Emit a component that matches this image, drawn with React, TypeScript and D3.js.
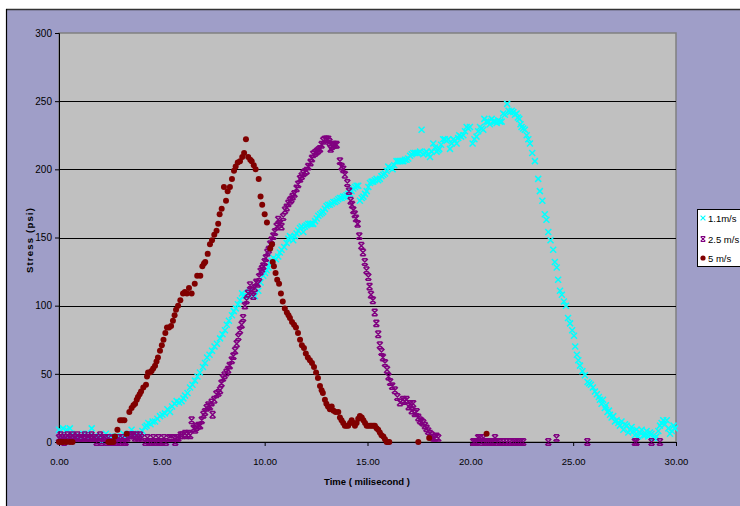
import React, { useEffect, useRef } from 'react'
import * as d3 from 'd3'

// time (ms), stress (psi)
const speed11: [number, number][] = [
  [0,9],[0.1,4],[0.2,10],[0.3,3],[0.37,9],[0.45,4],[0.53,10],[0.61,6],[0.7,3],[0.85,3],[1.0,4],[1.18,6],[1.34,6],[1.45,3],[1.59,10],[1.7,4],[1.83,3],[1.95,4],[2.07,0],[2.17,4],[2.28,6],[2.38,4],[2.48,3],[2.6,4],[2.75,4],[2.86,3],[2.97,3],[3.05,4],[3.13,6],[3.25,4],[3.35,5],[3.45,6],[3.53,9],[3.62,6],[3.72,6],[3.82,5],[3.94,6],[4.05,8],[4.18,11],[4.26,12],[4.34,14],[4.45,13],[4.55,15],[4.67,15],[4.78,17],[4.91,19],[5.03,20],[5.15,21],[5.27,24],[5.4,22],[5.5,26],[5.62,28],[5.72,30],[5.84,29],[5.96,30],[6.05,32],[6.13,34],[6.25,36],[6.37,40],[6.49,42],[6.61,45],[6.73,48],[6.85,51],[7.0,55],[7.1,58],[7.2,62],[7.32,64],[7.44,67],[7.56,70],[7.68,72],[7.83,76],[7.95,79],[8.07,82],[8.16,86],[8.26,89],[8.41,93],[8.5,96],[8.6,98],[8.7,101],[8.8,104],[8.9,109],[8.96,107],[9.1,107],[9.25,110],[9.4,108],[9.53,107],[9.69,111],[9.8,117],[9.93,122],[10.02,124],[10.1,126],[10.18,128],[10.26,131],[10.34,133],[10.42,135],[10.55,134],[10.66,136],[10.74,139],[10.82,141],[10.95,143],[11.07,146],[11.15,149],[11.23,151],[11.31,150],[11.39,148],[11.47,151],[11.55,153],[11.63,155],[11.72,157],[11.8,158],[11.88,154],[11.96,158],[12.04,159],[12.12,160],[12.2,160],[12.28,160],[12.36,160],[12.45,162],[12.53,164],[12.61,166],[12.7,167],[12.78,168],[12.85,169],[12.93,171],[13.01,173],[13.09,174],[13.17,174],[13.26,175],[13.34,176],[13.42,176],[13.5,177],[13.58,178],[13.66,179],[13.74,179],[13.82,180],[13.9,180],[13.98,181],[14.07,182],[14.15,182],[14.23,184],[14.31,186],[14.39,187],[14.47,188],[14.55,188],[14.63,177],[14.72,179],[14.8,180],[14.88,182],[14.96,184],[15.04,187],[15.12,190],[15.2,191],[15.28,191],[15.36,192],[15.44,193],[15.52,192],[15.6,193],[15.68,195],[15.77,196],[15.85,197],[15.93,199],[16.01,202],[16.1,201],[16.22,200],[16.3,203],[16.41,206],[16.5,206],[16.58,206],[16.66,206],[16.74,206],[16.82,207],[16.9,207],[16.98,208],[17.07,210],[17.15,211],[17.23,212],[17.31,212],[17.39,212],[17.47,212],[17.55,213],[17.63,229],[17.71,211],[17.79,212],[17.87,213],[17.96,211],[18.04,209],[18.12,213],[18.2,219],[18.28,216],[18.36,213],[18.44,214],[18.49,215],[18.58,218],[18.68,222],[18.76,222],[18.85,221],[18.93,222],[19.01,215],[19.09,219],[19.17,222],[19.25,221],[19.33,219],[19.41,223],[19.46,225],[19.55,224],[19.66,225],[19.74,228],[19.82,231],[19.9,230],[19.98,231],[20.11,219],[20.2,222],[20.3,224],[20.38,228],[20.47,231],[20.55,230],[20.63,229],[20.68,237],[20.78,235],[20.87,235],[20.95,233],[21.04,237],[21.12,235],[21.2,235],[21.28,234],[21.36,236],[21.44,235],[21.52,235],[21.6,241],[21.68,240],[21.79,248],[21.86,243],[21.93,242],[22.01,243],[22.09,242],[22.17,240],[22.25,241],[22.31,238],[22.38,237],[22.44,233],[22.49,231],[22.57,230],[22.65,229],[22.74,225],[22.82,222],[22.9,219],[23.01,212],[23.14,206],[23.3,193],[23.38,184],[23.5,177],[23.62,167],[23.7,163],[23.79,154],[23.9,148],[24.03,141],[24.11,132],[24.2,128],[24.27,119],[24.36,111],[24.45,108],[24.55,103],[24.65,100],[24.75,91],[24.85,87],[24.95,82],[25.04,78],[25.1,70],[25.18,64],[25.25,60],[25.33,56],[25.45,52],[25.57,49],[25.7,44],[25.78,43],[25.86,42],[25.96,40],[26.06,37],[26.15,35],[26.25,33],[26.3,31],[26.38,28],[26.45,31],[26.54,25],[26.59,27],[26.67,22],[26.74,23],[26.79,20],[26.87,18],[26.95,19],[27.03,15],[27.11,16],[27.19,14],[27.27,12],[27.35,15],[27.44,9],[27.52,13],[27.6,12],[27.68,7],[27.76,9],[27.84,11],[27.92,8],[28.0,5],[28.08,9],[28.16,4],[28.25,7],[28.33,9],[28.41,5],[28.49,5],[28.57,8],[28.65,4],[28.73,7],[28.81,6],[28.89,3],[28.97,3],[29.05,4],[29.14,8],[29.22,12],[29.3,14],[29.38,16],[29.46,13],[29.55,16],[29.63,10],[29.71,6],[29.8,8],[29.88,12],[29.95,10],
]

const speed25: [number, number][] = [
  [0,3],[0.08,5],[0.16,3],[0.25,0],[0.33,3],[0.41,5],[0.5,3],[0.58,3],[0.66,5],[0.74,3],[0.82,3],[0.9,5],[1.0,3],[1.08,3],[1.16,3],[1.25,5],[1.33,3],[1.41,3],[1.5,3],[1.58,5],[1.66,3],[1.74,3],[1.83,0],[1.91,3],[2.0,5],[2.07,0],[2.15,3],[2.24,3],[2.32,0],[2.4,3],[2.5,0],[2.58,0],[2.66,3],[2.74,0],[2.82,0],[2.9,3],[3.0,0],[3.08,3],[3.16,0],[3.24,0],[3.32,3],[3.45,5],[3.53,5],[3.62,5],[3.7,3],[3.78,5],[3.86,3],[3.94,5],[4.02,3],[4.2,0],[4.3,3],[4.4,0],[4.5,0],[4.58,3],[4.66,0],[4.75,0],[4.84,3],[4.92,0],[5.0,0],[5.1,3],[5.2,0],[5.35,3],[5.45,3],[5.55,3],[5.65,0],[5.72,3],[5.8,3],[5.92,5],[6.0,5],[6.13,6],[6.2,5],[6.3,6],[6.38,5],[6.45,16],[6.55,10],[6.62,9],[6.69,11],[6.78,12],[6.86,12],[6.94,16],[7.02,20],[7.1,22],[7.18,25],[7.26,27],[7.34,26],[7.42,29],[7.47,20],[7.55,31],[7.65,35],[7.75,36],[7.83,38],[7.9,43],[7.97,47],[8.05,49],[8.14,51],[8.22,53],[8.3,56],[8.4,60],[8.48,63],[8.56,67],[8.64,72],[8.72,77],[8.8,82],[8.88,86],[8.95,91],[9.04,100],[9.12,104],[9.19,109],[9.29,115],[9.37,111],[9.45,107],[9.52,113],[9.59,117],[9.66,116],[9.73,121],[9.8,125],[9.87,127],[9.93,129],[10.0,132],[10.06,135],[10.13,139],[10.2,141],[10.27,145],[10.34,148],[10.42,151],[10.5,154],[10.58,158],[10.66,163],[10.74,160],[10.82,158],[10.9,165],[10.99,170],[11.07,172],[11.15,175],[11.23,177],[11.3,178],[11.36,180],[11.45,182],[11.55,186],[11.63,189],[11.72,193],[11.8,195],[11.88,197],[11.96,198],[12.04,199],[12.12,202],[12.23,205],[12.3,208],[12.36,211],[12.45,212],[12.53,213],[12.61,214],[12.69,215],[12.77,218],[12.85,221],[12.93,222],[13.01,222],[13.09,222],[13.15,220],[13.21,215],[13.28,217],[13.34,218],[13.42,218],[13.5,218],[13.66,206],[13.74,202],[13.82,200],[13.9,196],[14.02,190],[14.1,184],[14.18,177],[14.25,174],[14.31,170],[14.38,167],[14.44,164],[14.52,160],[14.6,151],[14.7,144],[14.78,139],[14.87,132],[14.95,126],[15.04,121],[15.1,114],[15.17,108],[15.26,104],[15.35,95],[15.43,87],[15.52,79],[15.6,71],[15.68,66],[15.75,62],[15.85,58],[15.95,53],[16.02,48],[16.1,44],[16.2,41],[16.33,38],[16.45,33],[16.58,29],[16.72,31],[16.8,30],[16.9,31],[17.0,26],[17.08,28],[17.15,23],[17.22,28],[17.3,21],[17.39,22],[17.47,18],[17.55,16],[17.63,15],[17.71,14],[17.79,12],[17.87,10],[17.95,8],[18.04,6],[18.12,5],[18.2,3],[18.28,3],[18.36,4],[18.44,3],
  [20.14,0],[20.22,0],[20.3,0],[20.38,3],[20.47,3],[20.55,0],[20.63,3],[20.71,0],[20.8,0],[20.9,0],[21.0,0],[21.1,0],[21.2,3],[21.3,0],[21.44,0],[21.6,0],[21.76,0],[21.92,0],[22.09,0],[22.2,0],[22.33,0],[22.45,0],[22.57,0],[23.79,0],[24.19,3],[25.69,0],[28.0,0],[28.08,0],[28.81,0],[29.22,0],
]

const speed5: [number, number][] = [
  [0,0],[0.1,0],[0.2,0],[0.35,0],[0.53,0],[0.66,0],[2.4,0],[2.48,0],[2.56,0],[2.64,0],[2.72,4],[2.84,9],[2.97,16],[3.07,16],[3.18,16],[3.29,6],[3.42,22],[3.53,25],[3.62,27],[3.7,28],[3.78,31],[3.84,33],[3.92,35],[3.99,37],[4.1,40],[4.23,42],[4.28,48],[4.33,51],[4.42,51],[4.5,52],[4.58,54],[4.67,56],[4.74,59],[4.81,62],[4.91,67],[5.0,71],[5.08,75],[5.17,80],[5.25,84],[5.35,84],[5.45,85],[5.54,89],[5.62,93],[5.69,97],[5.79,100],[5.9,104],[6.03,109],[6.12,110],[6.22,109],[6.32,113],[6.45,109],[6.6,116],[6.72,122],[6.87,122],[6.97,129],[7.05,131],[7.11,132],[7.23,138],[7.34,145],[7.44,148],[7.55,152],[7.66,155],[7.74,160],[7.81,167],[7.91,171],[8.02,187],[8.12,177],[8.2,184],[8.31,187],[8.41,193],[8.51,199],[8.59,202],[8.69,205],[8.8,206],[8.91,209],[9.0,212],[9.09,222],[9.2,209],[9.3,207],[9.37,206],[9.47,203],[9.56,200],[9.71,193],[9.8,180],[9.88,174],[10.0,167],[10.11,161],[10.27,142],[10.36,145],[10.39,132],[10.45,129],[10.53,124],[10.61,119],[10.7,116],[10.79,109],[10.88,103],[10.98,98],[11.08,95],[11.16,93],[11.23,91],[11.33,88],[11.43,86],[11.52,84],[11.62,80],[11.72,75],[11.81,71],[11.91,69],[12.0,65],[12.1,62],[12.2,60],[12.3,58],[12.4,55],[12.5,51],[12.59,47],[12.69,41],[12.77,38],[12.83,36],[12.93,31],[13.0,28],[13.08,26],[13.17,24],[13.26,26],[13.35,23],[13.45,22],[13.58,22],[13.66,18],[13.74,16],[13.82,14],[13.9,12],[13.98,12],[14.06,12],[14.15,14],[14.23,16],[14.31,14],[14.39,12],[14.47,14],[14.55,17],[14.63,19],[14.72,18],[14.8,16],[14.88,14],[14.96,12],[15.04,12],[15.13,12],[15.21,12],[15.29,12],[15.36,12],[15.44,10],[15.52,9],[15.6,7],[15.68,5],[15.77,4],[15.85,2],[15.93,0],[16.0,0],[16.06,0],[17.47,0],[18.0,3],[20.79,6],
]

const seriesNames = ['1.1m/s', '2.5 m/s', '5 m/s']
const seriesColors = ['#00ffff', '#800080', '#800000']
const xTicks = [0, 5, 10, 15, 20, 25, 30]
const yTicks = [0, 50, 100, 150, 200, 250, 300]

const crossPath = 'M-3,-3L3,3M-3,3L3,-3'
const starPath = 'M-3,-3L3,3M-3,3L3,-3M-2.5,-3.2L2.5,-3.2M-2.5,3.2L2.5,3.2'

export default function App() {
  const svgRef = useRef<SVGSVGElement>(null)

  const width = 740
  const height = 506
  const left = 59
  const right = 676
  const top = 33
  const bottom = 442

  useEffect(() => {
    const svg = d3.select(svgRef.current)
    svg.selectAll('*').remove()

    const x = d3.scaleLinear().domain([0, 30]).range([left, right])
    const y = d3.scaleLinear().domain([0, 300]).range([bottom, top])

    // outer chart area
    svg.append('rect')
      .attr('x', 6.5).attr('y', 9.5)
      .attr('width', 800).attr('height', 600)
      .attr('fill', '#9f9ec8')
    svg.append('line').attr('x1', 6).attr('x2', 740).attr('y1', 9.5).attr('y2', 9.5)
      .attr('stroke', '#333').attr('stroke-width', 1.5)
    svg.append('line').attr('x1', 6.5).attr('x2', 6.5).attr('y1', 9).attr('y2', 506)
      .attr('stroke', '#000').attr('stroke-width', 1.2)

    // plot area
    svg.append('rect')
      .attr('x', left).attr('y', top)
      .attr('width', right - left).attr('height', bottom - top)
      .attr('fill', '#c0c0c0')
      .attr('stroke', '#808080').attr('stroke-width', 1.5)

    svg.append('g')
      .selectAll('line')
      .data(yTicks.filter(d => d > 0 && d < 300))
      .join('line')
      .attr('x1', left).attr('x2', right)
      .attr('y1', d => Math.round(y(d)) + 0.5).attr('y2', d => Math.round(y(d)) + 0.5)
      .attr('stroke', '#000').attr('stroke-width', 1)

    const font = '"Liberation Sans", Arial, sans-serif'

    // y axis
    const yAxis = svg.append('g')
      .attr('transform', `translate(${left},0)`)
      .call(d3.axisLeft(y).tickValues(yTicks).tickSize(4).tickPadding(3).tickFormat(d3.format('d')))
    yAxis.select('.domain').attr('stroke', '#000')
    yAxis.selectAll('text').attr('font-family', font).attr('font-size', 10).attr('fill', '#000')

    // x axis
    const xAxis = svg.append('g')
      .attr('transform', `translate(0,${bottom})`)
      .call(d3.axisBottom(x).tickValues(xTicks).tickSize(4).tickPadding(12).tickFormat(d3.format('.2f')))
    xAxis.select('.domain').attr('stroke', '#000')
    xAxis.selectAll('text').attr('font-family', font).attr('font-size', 9.5).attr('fill', '#000')

    // series
    const marks = svg.append('g')

    marks.append('g').selectAll('path')
      .data(speed11)
      .join('path')
      .attr('transform', d => `translate(${x(d[0])},${y(d[1])})`)
      .attr('d', crossPath)
      .attr('stroke', seriesColors[0]).attr('stroke-width', 1.5).attr('fill', 'none')

    marks.append('g').selectAll('path')
      .data(speed25)
      .join('path')
      .attr('transform', d => `translate(${x(d[0])},${y(d[1])})`)
      .attr('d', starPath)
      .attr('stroke', seriesColors[1]).attr('stroke-width', 1.5).attr('fill', 'none')

    marks.append('g').selectAll('circle')
      .data(speed5)
      .join('circle')
      .attr('cx', d => x(d[0])).attr('cy', d => y(d[1]))
      .attr('r', 3)
      .attr('fill', seriesColors[2])

    // axis titles
    svg.append('text')
      .attr('x', 367).attr('y', 485)
      .attr('text-anchor', 'middle')
      .attr('font-family', font).attr('font-size', 9.5).attr('font-weight', 'bold')
      .text('Time ( milisecond )')

    svg.append('text')
      .attr('transform', 'translate(33,240) rotate(-90)')
      .attr('text-anchor', 'middle')
      .attr('font-family', font).attr('font-size', 9.5).attr('font-weight', 'bold')
      .attr('letter-spacing', 1.2)
      .text('Stress (psi)')

    // legend
    const legend = svg.append('g')
    legend.append('rect')
      .attr('x', 697.5).attr('y', 209.5)
      .attr('width', 60).attr('height', 57)
      .attr('fill', '#fff').attr('stroke', '#000')

    const rows = legend.selectAll('g.row')
      .data(seriesNames)
      .join('g')
      .attr('class', 'row')
      .attr('transform', (d, i) => `translate(703,${[218, 239, 258][i]})`)

    rows.each(function (d, i) {
      const g = d3.select(this)
      if (i === 2) {
        g.append('circle').attr('r', 2.6).attr('fill', seriesColors[2])
      } else {
        g.append('path')
          .attr('d', i === 0 ? crossPath : starPath)
          .attr('transform', 'scale(0.8)')
          .attr('stroke', seriesColors[i]).attr('stroke-width', 1.4).attr('fill', 'none')
      }
      g.append('text')
        .attr('x', 5).attr('y', 3.5)
        .attr('font-family', font).attr('font-size', 9.5)
        .text(d)
    })
  }, [])

  return (
    <svg
      ref={svgRef}
      width={width}
      height={height}
      style={{ position: 'absolute', left: 0, top: 0, background: '#fff' }}
    />
  )
}
